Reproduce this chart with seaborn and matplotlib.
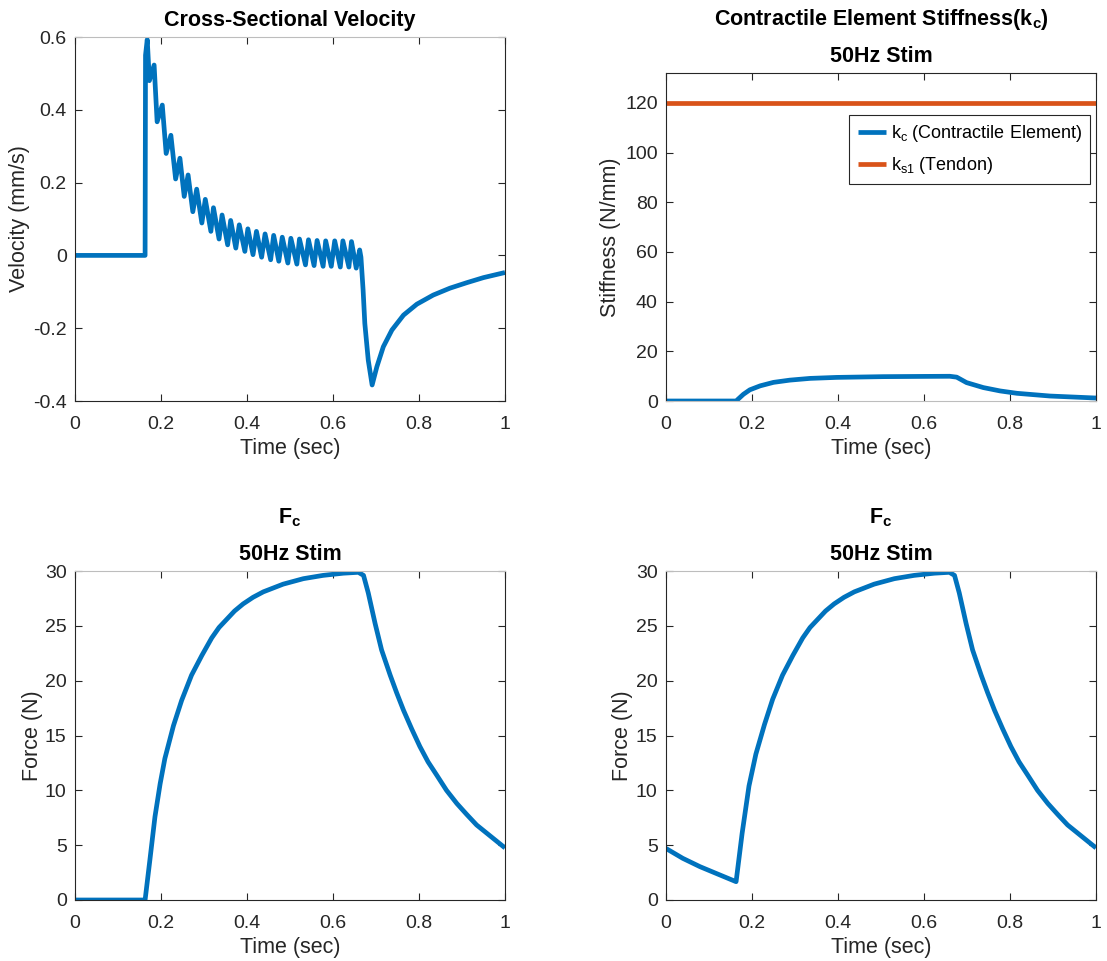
import matplotlib
matplotlib.use("Agg")
import matplotlib.pyplot as plt
import pandas as pd
import seaborn as sns

# ---------------- data ----------------
vel_time = [0.0, 0.163, 0.164, 0.168, 0.173, 0.184, 0.191, 0.203, 0.212, 0.223, 0.234,
            0.244, 0.254, 0.263, 0.274, 0.283, 0.295, 0.303, 0.316, 0.322, 0.335, 0.342,
            0.355, 0.362, 0.374, 0.382, 0.395, 0.402, 0.414, 0.422, 0.434, 0.442, 0.455,
            0.462, 0.474, 0.482, 0.495, 0.502, 0.516, 0.522, 0.536, 0.543, 0.556, 0.563,
            0.577, 0.583, 0.596, 0.604, 0.617, 0.623, 0.637, 0.643, 0.654, 0.662, 0.665,
            0.670, 0.674, 0.682, 0.691, 0.702, 0.717, 0.737, 0.764, 0.795, 0.833, 0.872,
            0.911, 0.950, 1.0]
velocity = [0.0, 0.0, 0.55, 0.593, 0.48, 0.523, 0.367, 0.413, 0.28, 0.33, 0.21,
            0.267, 0.162, 0.221, 0.12, 0.182, 0.089, 0.154, 0.066, 0.131, 0.045, 0.111,
            0.029, 0.096, 0.02, 0.084, 0.011, 0.073, 0.002, 0.066, -0.005, 0.059, -0.012,
            0.055, -0.016, 0.05, -0.021, 0.047, -0.024, 0.045, -0.026, 0.043, -0.028, 0.041,
            -0.03, 0.04, -0.03, 0.04, -0.032, 0.04, -0.032, 0.038, -0.035, 0.015, -0.005,
            -0.095, -0.187, -0.288, -0.356, -0.306, -0.251, -0.205, -0.164, -0.134, -0.109, -0.090,
            -0.075, -0.061, -0.047]

kc_time = [0.0, 0.163, 0.180, 0.195, 0.219, 0.250, 0.288, 0.335, 0.397, 0.505,
           0.600, 0.660, 0.676, 0.699, 0.738, 0.777, 0.816, 0.893, 1.0]
kc_values = [0.0, 0.0, 2.7, 4.5, 6.1, 7.5, 8.4, 9.1, 9.5, 9.8,
             9.9, 9.95, 9.6, 7.4, 5.4, 4.05, 3.1, 2.0, 1.2]
ks1_time = [0.0, 1.0]
ks1_values = [120.0, 120.0]

fc_time = [0.0, 0.163, 0.174, 0.186, 0.198, 0.209, 0.229, 0.248, 0.271, 0.295, 0.318,
           0.335, 0.353, 0.371, 0.391, 0.414, 0.438, 0.484, 0.531, 0.577, 0.624, 0.659,
           0.671, 0.682, 0.698, 0.713, 0.733, 0.748, 0.764, 0.783, 0.802, 0.821, 0.841,
           0.864, 0.888, 0.911, 0.934, 1.0]
fc_values = [0.0, 0.0, 3.6, 7.6, 10.6, 12.9, 15.9, 18.2, 20.5, 22.3, 23.9,
             24.85, 25.6, 26.35, 27.0, 27.6, 28.1, 28.8, 29.3, 29.6, 29.8, 29.88,
             29.6, 28.0, 25.2, 22.8, 20.5, 18.9, 17.3, 15.6, 14.0, 12.6, 11.4,
             10.0, 8.8, 7.8, 6.84, 4.75]

fc2_time = [0.0, 0.039, 0.079, 0.120, 0.163, 0.177, 0.193, 0.209, 0.229, 0.248, 0.271,
            0.295, 0.318, 0.335, 0.353, 0.371, 0.391, 0.414, 0.438, 0.484, 0.531, 0.577,
            0.624, 0.659, 0.671, 0.682, 0.698, 0.713, 0.733, 0.748, 0.764, 0.783, 0.802,
            0.821, 0.841, 0.864, 0.888, 0.911, 0.934, 1.0]
fc2_values = [4.7, 3.8, 3.04, 2.37, 1.67, 6.07, 10.4, 13.3, 16.0, 18.3, 20.5,
              22.3, 23.9, 24.85, 25.6, 26.35, 27.0, 27.6, 28.1, 28.8, 29.3, 29.6,
              29.8, 29.88, 29.6, 28.0, 25.2, 22.8, 20.5, 18.9, 17.3, 15.6, 14.0,
              12.6, 11.4, 10.0, 8.8, 7.8, 6.84, 4.75]

time_ticks = [0, 0.2, 0.4, 0.6, 0.8, 1]
time_ticklabels = ["0", "0.2", "0.4", "0.6", "0.8", "1"]
vel_ticks = [-0.4, -0.2, 0, 0.2, 0.4, 0.6]
vel_ticklabels = ["-0.4", "-0.2", "0", "0.2", "0.4", "0.6"]
stiff_ticks = [0, 20, 40, 60, 80, 100, 120]
stiff_ticklabels = ["0", "20", "40", "60", "80", "100", "120"]
force_ticks = [0, 5, 10, 15, 20, 25, 30]
force_ticklabels = ["0", "5", "10", "15", "20", "25", "30"]

legend_labels = [r"k$_\mathrm{c}$ (Contractile Element)", r"k$_\mathrm{s1}$ (Tendon)"]

# ---------------- style ----------------
sns.set_theme(style="white")
plt.rcParams.update({
    "font.family": ["Liberation Sans", "DejaVu Sans"],
    "mathtext.fontset": "custom",
    "mathtext.rm": "Liberation Sans",
    "mathtext.it": "Liberation Sans:italic",
    "mathtext.bf": "Liberation Sans:bold",
    "axes.edgecolor": "#262626",
    "axes.linewidth": 0.8,
    "axes.labelcolor": "#262626",
    "axes.labelsize": 15.5,
    "xtick.labelsize": 14,
    "ytick.labelsize": 14,
    "xtick.color": "#262626",
    "ytick.color": "#262626",
    "legend.fontsize": 13,
    "lines.solid_joinstyle": "round",
    "lines.solid_capstyle": "butt",
})

BLUE = "#0072BD"
ORANGE = "#D95319"
LW = 3.4
TXT = "#262626"

fig = plt.figure(figsize=(11.07, 9.61), dpi=100)
W, H = 1107.0, 961.0


def make_axes(x0, ytop, ybot):
    return fig.add_axes([x0 / W, 1 - ybot / H, 430 / W, (ybot - ytop) / H])


def style_axes(ax, height_px, yticks, yticklabels, ylim, ylabel, ylabel_x,
               gray_top=True, gray_bottom=False):
    ax.set_xlim(0, 1)
    ax.set_ylim(*ylim)
    ax.set_xticks(time_ticks)
    ax.set_xticklabels(time_ticklabels)
    ax.set_yticks(yticks)
    ax.set_yticklabels(yticklabels)
    ax.tick_params(which="both", direction="in", bottom=True, top=True, left=True,
                   right=True, length=5, width=0.8, colors=TXT)
    ax.tick_params(axis="x", pad=10.5)
    ax.tick_params(axis="y", pad=6)
    ax.set_xlabel("Time (sec)", color=TXT)
    ax.set_ylabel(ylabel, color=TXT)
    ax.xaxis.set_label_coords(0.5, -37.0 / height_px)
    ax.yaxis.set_label_coords(ylabel_x, 0.5)
    for s in ax.spines.values():
        s.set_color(TXT)
        s.set_linewidth(0.8)
    if gray_top:
        ax.spines["top"].set_color("#bdbdbd")
    if gray_bottom:
        ax.spines["bottom"].set_color("#bdbdbd")


def titles(ax, lines):
    # lines listed from the one nearest the axes upward
    for i, t in enumerate(lines):
        ax.annotate(t, xy=(0.5, 1.0), xycoords="axes fraction",
                    xytext=(0, 11 + 37 * i), textcoords="offset pixels",
                    ha="center", va="baseline", fontsize=15.5, fontweight="bold",
                    color="black")


# --- top-left: velocity ---
ax1 = make_axes(75, 37, 401)
sns.lineplot(x=vel_time, y=velocity, ax=ax1, color=BLUE, linewidth=LW, sort=False)
style_axes(ax1, 364, vel_ticks, vel_ticklabels, (-0.4, 0.6), "Velocity (mm/s)", -0.105)
titles(ax1, ["Cross-Sectional Velocity"])

# --- top-right: stiffness ---
ax2 = make_axes(666, 73, 401)
sns.lineplot(x=kc_time, y=kc_values, ax=ax2, color=BLUE, linewidth=LW, sort=False,
             label=legend_labels[0])
sns.lineplot(x=ks1_time, y=ks1_values, ax=ax2, color=ORANGE, linewidth=LW, sort=False,
             label=legend_labels[1])
style_axes(ax2, 328, stiff_ticks, stiff_ticklabels, (0, 132), "Stiffness (N/mm)", -0.105,
           gray_top=False, gray_bottom=True)
titles(ax2, ["50Hz Stim", r"Contractile Element Stiffness(k$_\mathbf{c}$)"])
leg = ax2.legend(loc="upper right", bbox_to_anchor=(0.986, 0.872), borderaxespad=0,
                 frameon=True, fancybox=False, framealpha=1, edgecolor="#262626",
                 handlelength=1.6, handletextpad=0.25, borderpad=0.45, labelspacing=0.6)
leg.get_frame().set_linewidth(0.8)
for t in leg.get_texts():
    t.set_color("black")

# --- bottom-left: force ---
ax3 = make_axes(75, 571, 900)
sns.lineplot(x=fc_time, y=fc_values, ax=ax3, color=BLUE, linewidth=LW, sort=False)
style_axes(ax3, 329, force_ticks, force_ticklabels, (0, 30), "Force (N)", -0.074)
titles(ax3, ["50Hz Stim", r"F$_\mathbf{c}$"])

# --- bottom-right: force ---
ax4 = make_axes(666, 571, 900)
sns.lineplot(x=fc2_time, y=fc2_values, ax=ax4, color=BLUE, linewidth=LW, sort=False)
style_axes(ax4, 329, force_ticks, force_ticklabels, (0, 30), "Force (N)", -0.077)
titles(ax4, ["50Hz Stim", r"F$_\mathbf{c}$"])

fig.savefig("out.png", dpi=100)
